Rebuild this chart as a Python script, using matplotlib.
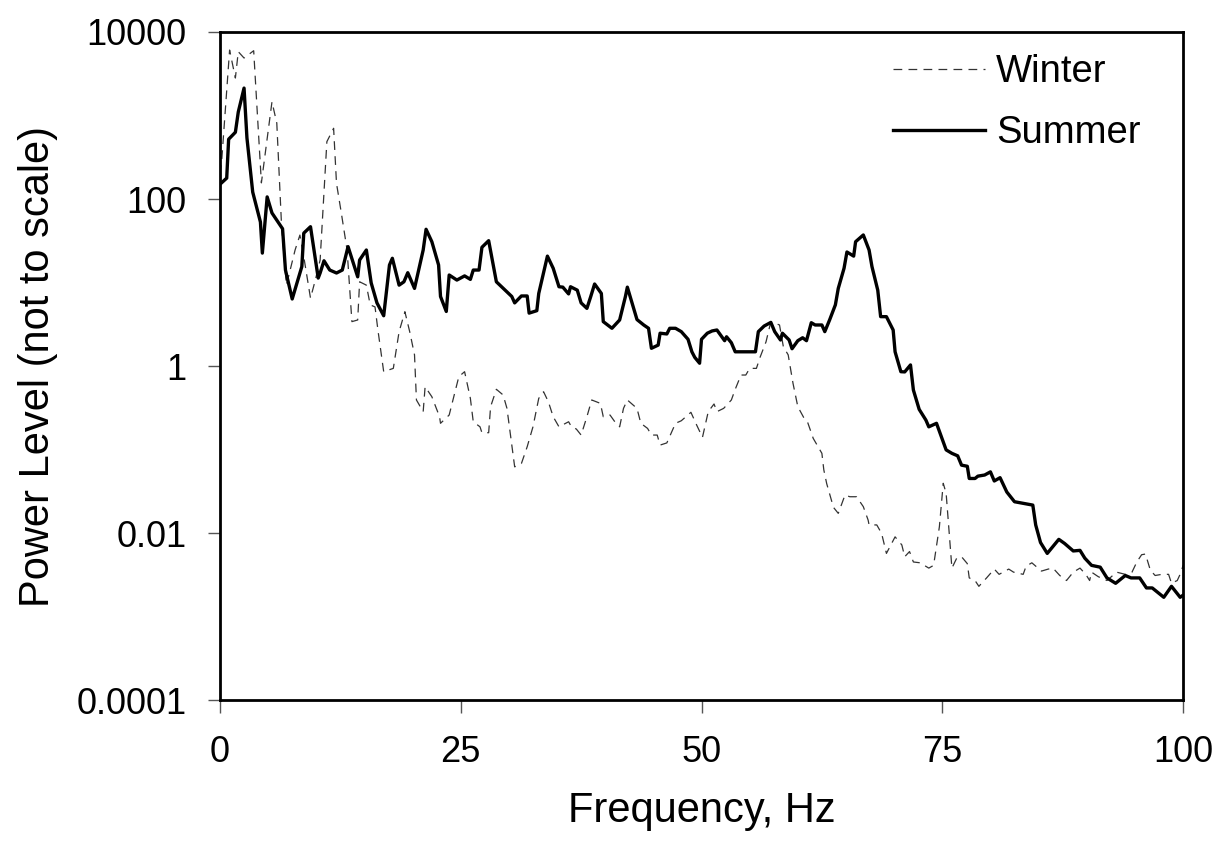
from matplotlib import pyplot as plt
from matplotlib.ticker import NullLocator

plt.rcParams['font.family'] = ['Liberation Sans', 'DejaVu Sans']

# Summer spectrum (Hz, power level)
summer_hz = [0.0, 0.7, 0.9, 1.6, 1.9, 2.5, 2.8, 3.4, 4.2, 4.4, 4.9, 5.4, 6.5, 6.8, 7.5, 8.5, 8.7, 9.4,
             10.2, 10.4, 10.8, 11.4, 12.1, 12.7, 13.3, 14.3, 14.5, 15.2, 15.7, 16.3, 17.0, 17.6, 17.9,
             18.6, 19.1, 19.5, 20.2, 21.1, 21.4, 22.0, 22.7, 22.9, 23.5, 23.8, 24.6, 25.4, 26.0, 26.3,
             26.9, 27.2, 27.9, 28.7, 30.3, 30.6, 31.3, 31.9, 32.1, 32.9, 33.1, 34.0, 34.6, 35.2, 35.6,
             36.2, 36.4, 37.1, 37.5, 38.1, 38.5, 38.9, 39.6, 39.8, 40.7, 41.5, 42.1, 42.3, 43.3, 44.0,
             44.5, 44.8, 45.5, 45.7, 46.4, 46.7, 47.3, 47.9, 48.6, 49.0, 49.3, 49.8, 50.0, 50.6, 51.1,
             51.6, 52.1, 52.4, 52.6, 53.1, 53.5, 54.0, 54.5, 55.0, 55.6, 55.9, 56.5, 57.2, 57.6, 58.2,
             58.4, 59.1, 59.4, 60.0, 60.5, 60.9, 61.4, 61.8, 62.5, 62.8, 63.3, 63.9, 64.2, 64.8, 65.1,
             65.8, 66.0, 66.8, 67.4, 67.7, 68.3, 68.6, 69.2, 69.9, 70.1, 70.7, 71.1, 71.7, 72.0, 72.6,
             73.3, 73.6, 74.4, 75.4, 76.0, 76.6, 77.0, 77.6, 77.8, 78.4, 78.7, 79.4, 80.0, 80.4, 81.0,
             81.7, 82.5, 83.4, 84.4, 84.7, 85.2, 85.9, 87.1, 87.7, 88.6, 89.3, 89.8, 90.5, 91.4, 92.1,
             93.0, 94.0, 94.6, 95.5, 96.2, 96.8, 98.0, 98.8, 99.7, 100.0]
summer_level = [150, 178, 520, 630, 1100, 2130, 540, 121, 53, 22.5, 106, 68, 44, 14.1, 6.35, 15.5, 39, 46.6,
                11.3, 13.0, 18.2, 14.1, 13.0, 14.1, 26.9, 11.7, 18.6, 24.5, 9.9, 5.7, 4.0, 16.2, 19.5,
                9.3, 10.2, 13.1, 8.5, 24.5, 43.4, 30.8, 16.2, 6.8, 4.5, 12.3, 10.7, 12.0, 10.9, 14.1,
                14.1, 26.4, 31.7, 10.2, 6.8, 5.7, 6.9, 6.9, 4.3, 4.6, 7.4, 20.7, 14.8, 8.9, 8.8,
                7.3, 8.9, 8.1, 5.7, 4.9, 6.8, 9.6, 7.4, 3.4, 2.83, 3.56, 6.8, 8.8, 3.6, 3.1,
                2.83, 1.63, 1.78, 2.47, 2.42, 2.83, 2.83, 2.58, 2.09, 1.48, 1.27, 1.08, 2.09, 2.47, 2.63,
                2.70, 2.24, 2.01, 2.24, 1.90, 1.48, 1.48, 1.48, 1.48, 1.48, 2.58, 3.01, 3.33, 2.58, 2.05,
                2.47, 2.05, 1.61, 2.01, 2.18, 2.01, 3.30, 3.10, 3.10, 2.58, 3.56, 5.4, 8.5, 14.8, 23.2,
                20.7, 30.8, 37.1, 24.5, 15.5, 8.1, 3.9, 3.9, 2.7, 1.48, 0.855, 0.85, 1.03, 0.516, 0.303,
                0.225, 0.187, 0.206, 0.099, 0.090, 0.084, 0.065, 0.063, 0.045, 0.045, 0.048, 0.0495, 0.054, 0.042, 0.046,
                0.031, 0.0237, 0.0227, 0.0216, 0.0125, 0.0077, 0.0057, 0.0084, 0.0075, 0.0061, 0.0062, 0.0050, 0.0041, 0.0039, 0.0029,
                0.0025, 0.0031, 0.0029, 0.0029, 0.0022, 0.0022, 0.0017, 0.0023, 0.0017, 0.0018]

# Winter spectrum (Hz, power level)
winter_hz = [0.0, 0.2, 1.0, 1.6, 1.9, 2.5, 3.5, 4.3, 5.4, 5.9, 6.4, 6.9, 7.8, 8.3, 8.7, 9.4, 9.9, 10.4,
             11.1, 11.8, 12.1, 12.6, 13.2, 13.7, 14.3, 14.5, 15.2, 15.6, 16.1, 16.4, 17.0, 18.0, 18.6,
             19.2, 19.7, 20.2, 20.4, 21.1, 21.3, 22.0, 22.8, 22.9, 23.8, 24.8, 25.4, 26.0, 26.3, 27.0,
             27.2, 27.9, 28.1, 28.7, 29.4, 29.8, 30.6, 31.3, 31.9, 32.5, 33.1, 33.6, 34.1, 34.6, 35.2,
             36.2, 36.5, 37.0, 37.5, 38.1, 38.6, 39.5, 39.8, 40.5, 41.0, 41.5, 41.9, 42.3, 43.3, 43.7,
             44.4, 44.8, 45.4, 45.7, 46.4, 47.3, 47.9, 48.9, 49.5, 50.1, 50.7, 51.3, 51.6, 52.3, 53.1,
             53.5, 54.1, 54.6, 55.0, 55.7, 56.1, 56.7, 57.2, 58.1, 58.5, 59.0, 59.5, 60.0, 60.6, 61.0,
             61.6, 62.5, 62.7, 63.0, 63.7, 64.2, 64.9, 65.4, 66.1, 66.8, 67.3, 67.4, 68.2, 68.7, 69.2,
             70.1, 70.8, 71.1, 71.6, 72.0, 72.7, 73.6, 74.1, 74.7, 75.1, 75.4, 76.0, 76.5, 77.0, 77.6,
             77.8, 78.4, 78.8, 79.6, 80.4, 80.9, 81.9, 82.4, 83.4, 83.7, 84.3, 85.3, 86.0, 86.5, 87.2,
             87.9, 88.6, 89.3, 89.9, 90.3, 90.5, 91.2, 92.1, 93.1, 94.0, 94.7, 95.2, 95.7, 96.1, 96.6,
             97.1, 97.8, 98.5, 98.8, 99.4, 99.8, 100.0]
winter_level = [200, 310, 6080, 2810, 5810, 4880, 5970, 156, 1460, 810, 46.6, 9.3, 24.5, 37, 20.4, 6.5, 10.7, 18.6,
                486, 703, 154, 68, 24.5, 3.4, 3.56, 10.2, 9.3, 5.4, 5.1, 2.7, 0.855, 0.937, 2.58,
                4.47, 2.58, 1.36, 0.392, 0.284, 0.565, 0.429, 0.247, 0.206, 0.259, 0.745, 0.855, 0.41, 0.215, 0.187,
                0.159, 0.159, 0.326, 0.526, 0.45, 0.311, 0.062, 0.068, 0.108, 0.187, 0.41, 0.492, 0.373, 0.247, 0.187,
                0.215, 0.187, 0.176, 0.149, 0.247, 0.392, 0.357, 0.247, 0.259, 0.215, 0.187, 0.311, 0.392, 0.311, 0.206,
                0.179, 0.149, 0.149, 0.113, 0.12, 0.206, 0.221, 0.279, 0.196, 0.14, 0.284, 0.351, 0.284, 0.311, 0.392,
                0.526, 0.78, 0.78, 0.937, 0.937, 1.29, 1.95, 3.4, 3.1, 1.7, 1.36, 0.621, 0.326, 0.243, 0.215,
                0.136, 0.09, 0.057, 0.039, 0.0203, 0.0172, 0.0285, 0.0272, 0.0272, 0.0207, 0.0143, 0.0125, 0.0125, 0.0099, 0.0057,
                0.009, 0.0072, 0.0052, 0.006, 0.0045, 0.0044, 0.0038, 0.0041, 0.0119, 0.0394, 0.030, 0.0038, 0.005, 0.0052, 0.0043,
                0.0029, 0.0027, 0.0023, 0.0029, 0.0037, 0.0032, 0.0037, 0.0034, 0.0032, 0.004, 0.0044, 0.0035, 0.0037, 0.0038, 0.0031,
                0.0027, 0.0034, 0.0038, 0.0032, 0.0027, 0.0034, 0.003, 0.0027, 0.0034, 0.0032, 0.0034, 0.0045, 0.0055, 0.0056, 0.0036,
                0.0031, 0.0032, 0.0032, 0.0025, 0.0027, 0.0034, 0.0041]

x_ticks = [0, 25, 50, 75, 100]
y_ticks = [0.0001, 0.01, 1, 100, 10000]
y_tick_labels = ['0.0001', '0.01', '1', '100', '10000']

fig = plt.figure(figsize=(12.18, 8.51), dpi=100)
ax = fig.add_axes([0.1806, 0.1774, 0.7907, 0.785])

ax.plot(winter_hz, winter_level, color='#333333', lw=0.9, dashes=(7, 5), label='Winter')
ax.plot(summer_hz, summer_level, color='black', lw=2.4, label='Summer')

ax.set_yscale('log')
ax.set_xlim(0, 100)
ax.set_ylim(0.0001, 10000)
ax.set_xticks(x_ticks)
ax.set_yticks(y_ticks)
ax.set_yticklabels(y_tick_labels)
ax.yaxis.set_minor_locator(NullLocator())

for s in ax.spines.values():
    s.set_linewidth(2.0)
    s.set_color('black')
ax.tick_params(direction='out', length=9, width=1, color='#555555', labelsize=26)
ax.tick_params(axis='x', pad=16)
ax.tick_params(axis='y', pad=15)

ax.set_xlabel('Frequency, Hz', fontsize=30, labelpad=15)
ax.set_ylabel('Power Level (not to scale)', fontsize=30, labelpad=13)

ax.legend(loc='upper left', bbox_to_anchor=(0.699, 0.967), frameon=False, fontsize=27.5,
          handlelength=2.4, handletextpad=0.3, borderpad=0, borderaxespad=0, labelspacing=0.65)

fig.savefig('out.png', dpi=100)
